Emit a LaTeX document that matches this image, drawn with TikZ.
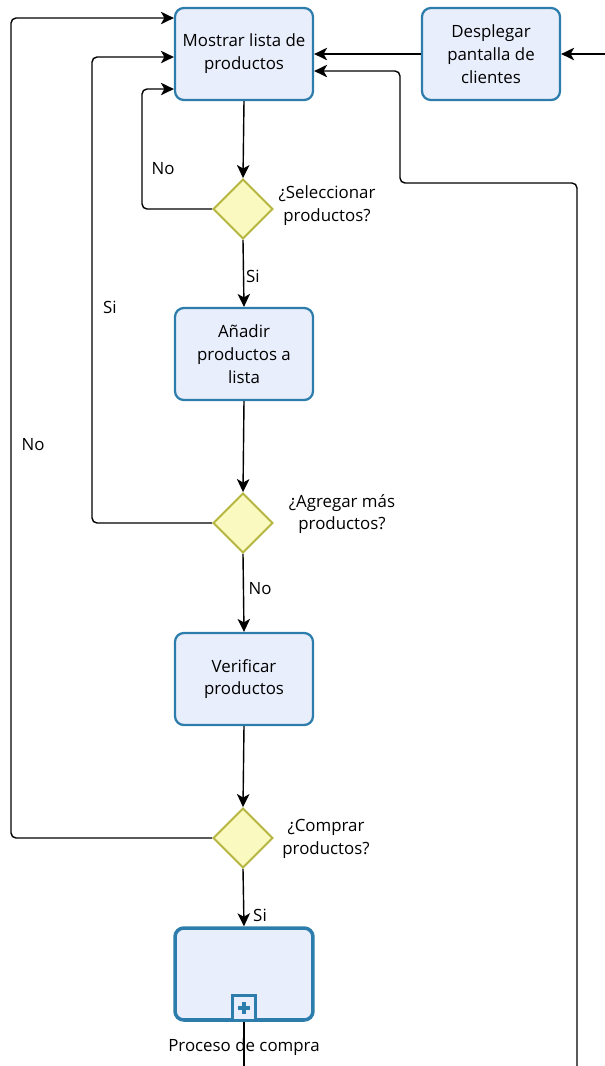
\documentclass[tikz,border=0pt]{standalone}
\usepackage{fontspec}
\setmainfont{Open Sans}
\usepackage{tikz}
\usetikzlibrary{arrows.meta,shapes.geometric,calc}

\definecolor{taskline}{HTML}{2C7DAC}
\definecolor{taskfill}{HTML}{E9EEFC}
\definecolor{gateline}{HTML}{B5B540}
\definecolor{gatefill}{HTML}{FAFAC0}

\tikzset{
	task/.style={draw=taskline, fill=taskfill, line width=1.3pt, rounded corners=5pt,
		minimum width=2.76cm, minimum height=1.84cm, align=center},
	gate/.style={diamond, draw=gateline, fill=gatefill, line width=1.1pt,
		minimum width=1.2cm, minimum height=1.2cm, inner sep=0pt},
	flow/.style={-{Stealth[length=2.6mm,width=2.5mm,inset=0.7mm]}, line width=0.8pt, rounded corners=1mm},
	lbl/.style={inner sep=1pt},
	txt/.style={align=center, inner sep=0pt},
}

\begin{document}
\begin{tikzpicture}[x=0.02cm, y=-0.02cm, font=\fontsize{9.6}{13}\selectfont]
	\useasboundingbox (0,0) rectangle (605,1066);
	% tareas
	\node [task] (mostrar) at (244,54) {Mostrar lista de\\productos};
	\node [task] (desp) at (491,54) {Desplegar\\pantalla de\\clientes};
	\node [gate] (d1) at (243,209) {};
	\node [task] (anadir) at (244,354) {Añadir\\productos a\\lista};
	\node [gate] (d2) at (243,523) {};
	\node [task] (verif) at (244,679) {Verificar\\productos};
	\node [gate] (d3) at (243,838) {};
	\node [task, line width=2pt] (proc) at (244,974) {};
	\node [draw=taskline, fill=taskfill, line width=1.3pt, minimum width=0.46cm, minimum height=0.5cm,
		inner sep=0pt, anchor=south] (mark) at (proc.south) {};
	\draw [taskline, line width=2.4pt] ($(mark.center)+(-6,0)$) -- ($(mark.center)+(6,0)$);
	\draw [taskline, line width=2.4pt] ($(mark.center)+(0,-6)$) -- ($(mark.center)+(0,6)$);
	%
	\node [txt] (q1) at (327,206) {¿Seleccionar\\productos?};
	\node [txt] (q2) at (342,514) {¿Agregar más\\productos?};
	\node [txt] (q3) at (326,839) {¿Comprar\\productos?};
	\node [txt] (ptxt) at (244,1047) {Proceso de compra};
	%
	\coordinate (entra) at (605,54);
	\coordinate (vuelve) at (577,1066);
	\coordinate (sale) at (244,1066);
	%
	\draw [flow] (entra) -- (desp.east);
	\draw [flow] (desp.west) -- (mostrar.east);
	\draw [flow] (vuelve) |- (400,183) |- ($(mostrar.east)+(0,17)$);
	\draw [flow] (mostrar.south) -- (d1.north);
	\draw [flow] (d1.south) -- (anadir.north);
	\draw [flow] (anadir.south) -- (d2.north);
	\draw [flow] (d2.south) -- (verif.north);
	\draw [flow] (verif.south) -- (d3.north);
	\draw [flow] (d3.south) -- (proc.north);
	\draw [line width=0.8pt] (proc.south) -- (sale);
	%
	\draw [flow] (d1.west) -- ++(-70,0) |- ($(mostrar.west)+(0,35)$);
	\draw [flow] (d2.west) -- ++(-120,0) |- ($(mostrar.west)+(0,3)$);
	\draw [flow] (d3.west) -- ++(-201,0) |- ($(mostrar.west)+(0,-36)$);
	%
	\node [lbl] (n1) at (163,169) {No};
	\node [lbl] (s1) at (253,276) {Si};
	\node [lbl] (s2) at (110,307) {Si};
	\node [lbl] (n2) at (260,589) {No};
	\node [lbl] (n3) at (33,445) {No};
	\node [lbl] (s3) at (260,915) {Si};
\end{tikzpicture}
\end{document}
